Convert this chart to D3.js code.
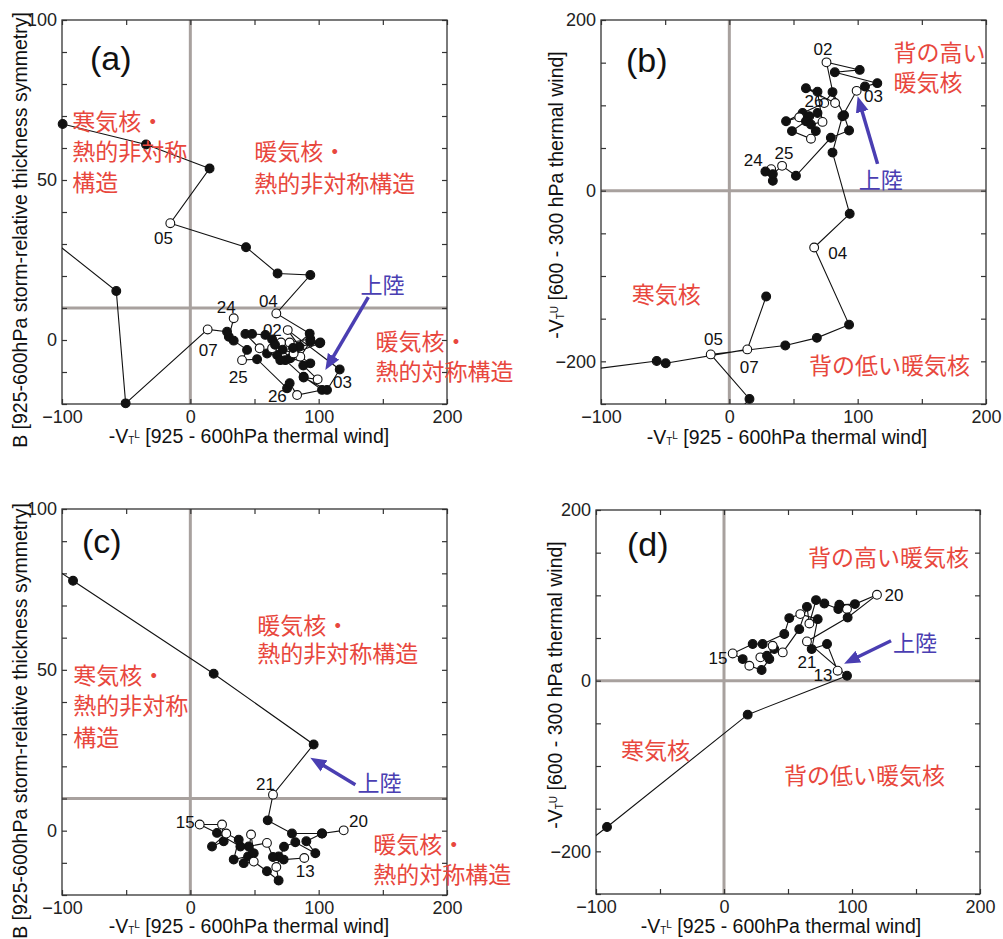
<!DOCTYPE html>
<html>
<head>
<meta charset="utf-8">
<script src="https://cdn.jsdelivr.net/npm/d3@7"></script>
<style>
  body { margin: 0; background: #fff; }
  svg text { font-family: "Liberation Sans", Arial, Helvetica, sans-serif; }
  .jp { font-family: "Noto Sans CJK JP", sans-serif; }
</style>
</head>
<body>
<svg id="chart" width="1003" height="939"></svg>
<script>
// ---------- data ----------
// tracks: [ -VTL , B or -VTU , open(00UTC)=1 ]
const trackA = [
  [33.8, 6.8, 1], [30.0, 1.0, 0], [33.8, -0.2, 0], [44.2, -3.1, 0],
  [40.3, -6.3, 1], [52.0, -6.0, 0], [75.4, -15.1, 0], [77.4, -13.5, 0],
  [83.2, -17.2, 1], [102.6, -15.6, 0], [88.3, -11.5, 0], [74.0, -6.3, 0],
  [54.0, -2.6, 1], [42.9, 1.9, 0], [48.1, 1.9, 0], [58.5, 1.6, 0],
  [70.7, -0.8, 1], [59.8, -4.2, 0], [67.6, -4.7, 0], [70.1, -6.3, 0],
  [63.7, -2.6, 1], [63.7, 0.2, 0], [77.9, -5.7, 0], [93.5, -7.3, 0],
  [85.7, -5.2, 1], [93.5, -0.5, 0], [100.8, -1.0, 0], [80.5, -4.2, 1],
  [72.0, -3.0, 0], [66.0, -1.5, 0], [77.4, -0.8, 1], [93.5, 0.3, 0],
  [101.3, -0.8, 0], [85.0, -2.0, 0], [75.9, 3.1, 1], [116.4, -9.2, 0],
  [106.5, -15.6, 0], [88.3, -11.7, 0], [99.2, -12.3, 1], [88.0, -8.0, 0],
  [80.0, -2.5, 0], [93.0, 2.0, 0], [67.0, 8.3, 1], [93.5, 20.3, 0],
  [68.0, 20.8, 0], [43.4, 29.0, 0], [-15.6, 36.5, 1], [15.0, 53.6, 0],
  [-34.5, 61.1, 0], [-99.5, 67.5, 0], [-150, 60, 0], [-130, 38.3, 0],
  [-57.7, 15.3, 0], [-50.4, -19.8, 0], [13.5, 3.3, 1], [28.6, 2.6, 0]
];
const trackB = [
  [32.6, 25.2, 1], [28.1, 22.4, 0], [33.9, 11.6, 0], [33.9, 19.4, 0],
  [41.1, 29.1, 1], [51.9, 17.4, 0], [79.1, 62.0, 0], [93.3, 70.5, 0],
  [89.4, 88.4, 0], [80.4, 115.5, 0], [73.9, 102.7, 1], [57.1, 91.0, 0],
  [44.2, 81.4, 0], [54.5, 86.0, 1], [62.3, 87.2, 0], [68.7, 91.0, 0],
  [48.8, 69.8, 0], [63.6, 60.9, 1], [67.4, 69.8, 0], [59.7, 81.4, 0],
  [63.6, 77.5, 0], [72.6, 80.6, 1], [68.7, 116.0, 0], [59.7, 120.0, 0],
  [82.4, 102.7, 1], [75.7, 150.4, 1], [101.6, 141.5, 0], [82.2, 138.7, 0],
  [115.3, 126.0, 0], [105.7, 122.0, 0], [99.2, 117.0, 1], [88.1, 87.2, 0],
  [80.4, 44.6, 0], [93.8, -27.1, 0], [66.1, -66.6, 1], [93.3, -157.0, 0],
  [68.2, -172.5, 0], [43.6, -181.4, 0], [-14.5, -191.9, 1], [15.7, -244.0, 0],
  [-34.5, -330, 0], [-99.5, -340, 0], [-150, -300, 0], [-130, -213.7, 0],
  [-56.6, -199.6, 0], [-49.6, -202.3, 0], [14.0, -186.0, 1], [28.7, -124.0, 0]
];
const trackC = [
  [88.8, -8.5, 1], [72.7, -9.0, 0], [68.8, -8.0, 0], [64.4, -8.2, 0],
  [59.7, -3.8, 1], [45.5, -4.9, 0], [39.0, -4.9, 0], [20.8, -0.7, 0],
  [7.3, 1.9, 1], [24.7, 1.9, 1], [26.0, -3.3, 0], [16.9, -4.9, 0],
  [28.0, -0.9, 1], [37.7, -2.8, 0], [33.8, -9.0, 0], [45.0, -8.0, 0],
  [47.3, -1.2, 1], [49.4, -7.0, 0], [41.6, -10.1, 0], [49.4, -9.6, 1],
  [59.7, -12.6, 0], [68.8, -15.5, 0], [67.0, -11.3, 1], [73.0, -5.0, 0],
  [81.8, -3.6, 0], [97.4, -7.0, 0], [90.4, -3.3, 0], [102.6, -0.9, 0],
  [119.5, 0.1, 1], [102.6, -0.9, 0], [79.2, -0.9, 0], [60.3, 3.2, 0],
  [64.4, 11.2, 1], [96.1, 26.8, 0], [18.2, 48.8, 0], [-91.4, 77.7, 0],
  [-110, 82.6, 0]
];
const trackD = [
  [88.8, 11.7, 1], [80.5, 42.9, 0], [68.5, 37.0, 0], [73.2, 72.1, 0],
  [59.6, 78.0, 1], [51.0, 73.3, 0], [47.1, 54.6, 0], [30.2, 42.9, 0],
  [22.4, 42.9, 0], [6.8, 31.9, 1], [14.6, 25.3, 0], [19.8, 17.5, 1],
  [29.4, 12.5, 0], [35.4, 25.3, 0], [28.4, 27.3, 1], [33.6, 29.2, 0],
  [39.3, 37.1, 0], [38.0, 40.9, 1], [45.9, 33.1, 1], [58.8, 60.4, 0],
  [64.8, 86.5, 0], [66.7, 67.0, 1], [71.9, 94.4, 0], [78.4, 90.4, 0],
  [89.3, 83.9, 0], [96.1, 83.9, 1], [90.1, 88.9, 0], [102.3, 89.7, 0],
  [119.5, 100.6, 1], [96.6, 74.0, 0], [64.8, 46.0, 1], [96.1, 5.8, 0],
  [18.5, -39.8, 0], [-91.4, -171.5, 0], [-110, -193, 0]
];

// date labels [text, x, y]
const datesA = [["05", -21, 31.6], ["04", 60.8, 11.9], ["24", 28, 10.3], ["02", 63.9, 3.1],
  ["07", 14, -3.4], ["25", 37.4, -11.6], ["26", 67.8, -17.5], ["03", 118.5, -13.4]];
const datesB = [["02", 72.9, 165], ["03", 112.4, 110.5], ["26", 65.9, 104.7], ["24", 18.6, 34.9],
  ["25", 42.6, 43], ["04", 84.5, -73.3], ["05", -12.4, -174.4], ["07", 15.5, -207]];
const datesC = [["21", 58.5, 14.3], ["15", -3.9, 2.5], ["20", 131, 2.8], ["13", 89.6, -12.8]];
const datesD = [["20", 132.8, 99.4], ["15", -4.7, 25.7], ["21", 64.8, 21], ["13", 77.3, 5.8]];

// red regime notes [text, x(left), y(centre)]
const notesA = [["寒気核・", -92, 68.8], ["熱的非対称", -92, 59.4], ["構造", -92, 49.7],
  ["暖気核・", 49.9, 59.4], ["熱的非対称構造", 49.9, 49.4],
  ["暖気核・", 144.2, 0], ["熱的対称構造", 144.2, -9.4]];
const notesB = [["背の高い", 127.9, 164], ["暖気核", 127.9, 128], ["寒気核", -76, -119.8],
  ["背の低い暖気核", 62, -203.5]];
const notesC = [["寒気核・", -91.2, 48.6], ["熱的非対称", -91.2, 39.3], ["構造", -91.2, 29.3],
  ["暖気核・", 52.2, 64.2], ["熱的非対称構造", 52.2, 55.5],
  ["暖気核・", 142.6, -3.7], ["熱的対称構造", 142.6, -13.1]];
const notesD = [["背の高い暖気核", 65.6, 146.2], ["寒気核", -80.5, -79.5], ["背の低い暖気核", 46.9, -108.8]];

// landfall: text position, arrow from, arrow to
const landA = { text: [132.5, 17.8], from: [138.7, 13.4], to: [105.2, -9.4] };
const landB = { text: [100.8, 15], from: [115.5, 31.4], to: [100, 110.5] };
const landC = { text: [130.2, 15.3], from: [128.6, 14.3], to: [93.5, 22.7] };
const landD = { text: [132, 46.8], from: [130.5, 46.8], to: [93.8, 19.9] };

const xTicks = [-100, -50, 0, 50, 100, 150, 200];
const xTickLabels = [-100, 0, 100, 200];
const yTicksB = d3.range(-20, 101, 10);
const yTickLabelsB = [0, 50, 100];
const yTicksV = d3.range(-250, 201, 50);
const yTickLabelsV = [-200, 0, 200];

const titleXL = ["-V", "T", "L", " [925 - 600hPa thermal wind]"];
const titleYB = "B [925-600hPa storm-relative thickness symmetry]";
const titleYU = ["-V", "T", "U", " [600 - 300 hPa thermal wind]"];

// ---------- drawing ----------
const svg = d3.select('#chart');
svg.append('rect').attr('width', 1003).attr('height', 939).attr('fill', '#fff');

const RED = '#e8473d', BLUE = '#4a3eb2', GRID = '#a8a19e';
const fmt = d => d < 0 ? '\u2212' + (-d) : String(d);

const panels = [
  { name: 'a', box: [62, 20, 447, 404], yDom: [-20, 100], hLine: 10, yTicks: yTicksB, yLab: yTickLabelsB,
    track: trackA, dates: datesA, notes: notesA, land: landA, letter: [90, 70], xTitle: [249, 443], yTitle: [27, 230], yTxt: titleYB },
  { name: 'b', box: [601, 20, 986, 404], yDom: [-250, 200], hLine: 0, yTicks: yTicksV, yLab: yTickLabelsV,
    track: trackB, dates: datesB, notes: notesB, land: landB, letter: [626, 72], xTitle: [787, 444], yTitle: [563, 195], yTxt: titleYU },
  { name: 'c', box: [62, 509, 447, 895], yDom: [-20, 100], hLine: 10, yTicks: yTicksB, yLab: yTickLabelsB,
    track: trackC, dates: datesC, notes: notesC, land: landC, letter: [82, 553], xTitle: [249, 933], yTitle: [27, 721], yTxt: titleYB },
  { name: 'd', box: [596, 510, 980, 894], yDom: [-250, 200], hLine: 0, yTicks: yTicksV, yLab: yTickLabelsV,
    track: trackD, dates: datesD, notes: notesD, land: landD, letter: [627, 556], xTitle: [781, 933], yTitle: [562, 685], yTxt: titleYU }
];

const defs = svg.append('defs');
defs.append('marker')
  .attr('id', 'head')
  .attr('viewBox', '0 -7 16 14')
  .attr('refX', 2).attr('refY', 0)
  .attr('markerWidth', 16).attr('markerHeight', 14)
  .attr('markerUnits', 'userSpaceOnUse')
  .attr('orient', 'auto')
  .append('path').attr('d', 'M0,-6.5L16,0L0,6.5Z').attr('fill', BLUE);

// "-V" with small subscript T and raised L/U
function richText(sel, parts) {
  sel.append('tspan').text(parts[0]);
  sel.append('tspan').attr('font-size', 10).attr('dy', 1).text(parts[1]);
  sel.append('tspan').attr('font-size', 10).attr('dy', -6).text(parts[2]);
  sel.append('tspan').attr('dy', 5).text(parts[3]);
}

panels.forEach(p => {
  const [L, T, R, B] = p.box;
  const x = d3.scaleLinear().domain([-100, 200]).range([L, R]);
  const y = d3.scaleLinear().domain(p.yDom).range([B, T]);
  const g = svg.append('g').attr('class', 'panel-' + p.name);

  defs.append('clipPath').attr('id', 'clip-' + p.name)
    .append('rect').attr('x', L).attr('y', T).attr('width', R - L).attr('height', B - T);

  // gray reference cross
  g.append('line').attr('x1', x(0)).attr('x2', x(0)).attr('y1', T).attr('y2', B)
    .attr('stroke', GRID).attr('stroke-width', 3);
  g.append('line').attr('x1', L).attr('x2', R).attr('y1', y(p.hLine)).attr('y2', y(p.hLine))
    .attr('stroke', GRID).attr('stroke-width', 3);

  // inward ticks on four sides
  const tickStyle = a => a.call(s => s.select('.domain').remove())
    .call(s => s.selectAll('line').attr('stroke', '#333').attr('stroke-width', 1.2));
  g.append('g').attr('transform', `translate(0,${B})`)
    .call(d3.axisBottom(x).tickValues(xTicks).tickSize(-5).tickFormat('')).call(tickStyle);
  g.append('g').attr('transform', `translate(0,${T})`)
    .call(d3.axisTop(x).tickValues(xTicks).tickSize(-5).tickFormat('')).call(tickStyle);
  g.append('g').attr('transform', `translate(${L},0)`)
    .call(d3.axisLeft(y).tickValues(p.yTicks).tickSize(-5).tickFormat('')).call(tickStyle);
  g.append('g').attr('transform', `translate(${R},0)`)
    .call(d3.axisRight(y).tickValues(p.yTicks).tickSize(-5).tickFormat('')).call(tickStyle);

  // tick labels
  const lab = s => s.call(a => a.select('.domain').remove())
    .attr('font-size', 18).attr('font-family', '"Liberation Sans", Arial, sans-serif')
    .call(a => a.selectAll('text').attr('fill', '#222'));
  g.append('g').attr('transform', `translate(0,${B})`)
    .call(d3.axisBottom(x).tickValues(xTickLabels).tickSize(0).tickPadding(6).tickFormat(fmt)).call(lab);
  g.append('g').attr('transform', `translate(${L},0)`)
    .call(d3.axisLeft(y).tickValues(p.yLab).tickSize(0).tickPadding(5).tickFormat(fmt)).call(lab);

  // frame
  g.append('rect').attr('x', L).attr('y', T).attr('width', R - L).attr('height', B - T)
    .attr('fill', 'none').attr('stroke', '#333').attr('stroke-width', 1.3);

  // track
  const line = d3.line().x(d => x(d[0])).y(d => y(d[1]));
  g.append('path').datum(p.track).attr('d', line)
    .attr('clip-path', `url(#clip-${p.name})`)
    .attr('fill', 'none').attr('stroke', '#111').attr('stroke-width', 1.1);
  const inside = p.track.filter(d => d[0] >= -101 && d[0] <= 201 && d[1] >= p.yDom[0] - 1 && d[1] <= p.yDom[1] + 1);
  g.selectAll('circle.pt').data(inside).join('circle')
    .attr('class', 'pt')
    .attr('cx', d => x(d[0])).attr('cy', d => y(d[1])).attr('r', 4.4)
    .attr('fill', d => d[2] ? '#fff' : '#111')
    .attr('stroke', '#111').attr('stroke-width', 1.1);

  // date labels
  g.selectAll('text.date').data(p.dates).join('text')
    .attr('class', 'date')
    .attr('x', d => x(d[1])).attr('y', d => y(d[2]))
    .attr('text-anchor', 'middle').attr('dominant-baseline', 'central')
    .attr('font-size', 17).attr('fill', '#111')
    .text(d => d[0]);

  // regime notes
  g.selectAll('text.note').data(p.notes).join('text')
    .attr('class', 'note jp')
    .attr('x', d => x(d[1])).attr('y', d => y(d[2]))
    .attr('dominant-baseline', 'central')
    .attr('font-size', 23).attr('fill', RED)
    .text(d => d[0]);

  // landfall arrow
  const x1 = x(p.land.from[0]), y1 = y(p.land.from[1]);
  const x2 = x(p.land.to[0]), y2 = y(p.land.to[1]);
  const len = Math.hypot(x2 - x1, y2 - y1), k = (len - 14) / len;
  g.append('line')
    .attr('x1', x1).attr('y1', y1)
    .attr('x2', x1 + (x2 - x1) * k).attr('y2', y1 + (y2 - y1) * k)
    .attr('stroke', BLUE).attr('stroke-width', 3.5)
    .attr('marker-end', 'url(#head)');
  g.append('text').attr('class', 'jp')
    .attr('x', x(p.land.text[0])).attr('y', y(p.land.text[1]))
    .attr('dominant-baseline', 'central')
    .attr('font-size', 22).attr('fill', BLUE)
    .text('上陸');

  // panel letter
  g.append('text').attr('x', p.letter[0]).attr('y', p.letter[1])
    .attr('font-size', 34).attr('fill', '#111')
    .text('(' + p.name + ')');

  // axis titles
  const xt = g.append('text').attr('x', p.xTitle[0]).attr('y', p.xTitle[1])
    .attr('text-anchor', 'middle').attr('font-size', 19.5).attr('fill', '#111');
  richText(xt, titleXL);

  const yt = g.append('text')
    .attr('transform', `translate(${p.yTitle[0]},${p.yTitle[1]}) rotate(-90)`)
    .attr('text-anchor', 'middle').attr('font-size', 19.5).attr('fill', '#111');
  if (typeof p.yTxt === 'string') yt.text(p.yTxt);
  else richText(yt, p.yTxt);
});
</script>
</body>
</html>
